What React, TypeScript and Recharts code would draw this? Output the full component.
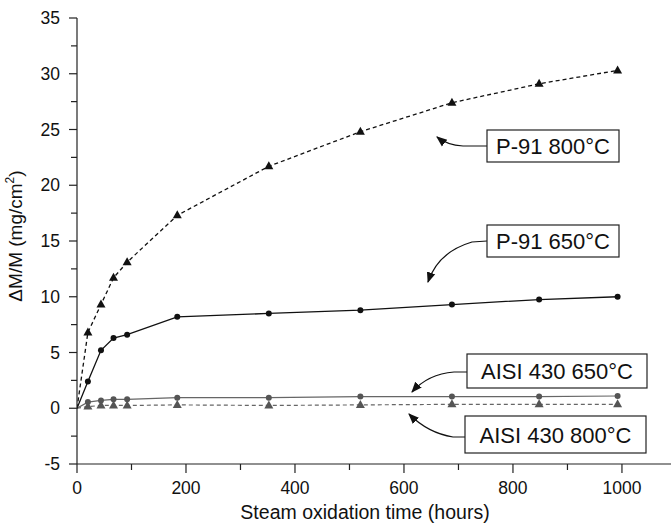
import { LineChart, Line, XAxis, YAxis } from "recharts";

const hours = [0, 20, 44, 67, 92, 184, 352, 520, 688, 848, 992];
const p91At800 = [0, 6.8, 9.3, 11.7, 13.1, 17.3, 21.7, 24.8, 27.4, 29.1, 30.3];
const p91At650 = [0, 2.4, 5.2, 6.3, 6.6, 8.2, 8.5, 8.8, 9.3, 9.75, 10.0];
const aisiAt650 = [0, 0.55, 0.7, 0.8, 0.8, 0.95, 0.95, 1.05, 1.05, 1.05, 1.1];
const aisiAt800 = [0, 0.15, 0.25, 0.25, 0.25, 0.3, 0.25, 0.3, 0.35, 0.35, 0.35];

const xTicks = [0, 100, 200, 300, 400, 500, 600, 700, 800, 900, 1000];
const yTicks = [-5, -2.5, 0, 2.5, 5, 7.5, 10, 12.5, 15, 17.5, 20, 22.5, 25, 27.5, 30, 32.5, 35];

const data = hours.map((h, i) => ({
  h,
  p800: p91At800[i],
  p650: p91At650[i],
  a650: aisiAt650[i],
  a800: aisiAt800[i],
}));

const FONT = "Liberation Sans, Arial, sans-serif";

const circle = (fill: string) => (props: any) => {
  const { cx, cy, index } = props;
  if (index === 0) return <g key={`c${index}`} />;
  return <circle key={`c${index}`} cx={cx} cy={cy} r={3} fill={fill} />;
};

const triangle = (fill: string) => (props: any) => {
  const { cx, cy, index } = props;
  if (index === 0) return <g key={`t${index}`} />;
  return (
    <path
      key={`t${index}`}
      d={`M${cx},${cy - 5} L${cx + 4.5},${cy + 3} L${cx - 4.5},${cy + 3} Z`}
      fill={fill}
    />
  );
};

const YTick = (props: any) => {
  const { x, y, payload } = props;
  const major = payload.value % 5 === 0;
  return (
    <g>
      <line x1={x - (major ? 8 : 6)} x2={x} y1={y} y2={y} stroke="#222" strokeWidth={1.2} />
      {major && (
        <text x={x - 17} y={y + 6} textAnchor="end" fontSize={17.5} fontFamily={FONT} fill="#111">
          {payload.value}
        </text>
      )}
    </g>
  );
};

const XTick = (props: any) => {
  const { x, y, payload } = props;
  const major = payload.value % 200 === 0;
  return (
    <g>
      <line x1={x} x2={x} y1={y} y2={y + (major ? 9 : 6)} stroke="#222" strokeWidth={1.2} />
      {major && (
        <text x={x} y={y + 30} textAnchor="middle" fontSize={17.5} fontFamily={FONT} fill="#111">
          {payload.value}
        </text>
      )}
    </g>
  );
};

const labels = [
  { text: "P-91 800°C", x: 487, y: 130, w: 132, h: 32, path: "M487,146 L463,146 Q447,145 437,137" },
  { text: "P-91 650°C", x: 487, y: 225, w: 132, h: 32, path: "M487,241 L472,242 Q438,252 428,282" },
  { text: "AISI 430 650°C", x: 467, y: 354, w: 180, h: 34, path: "M467,372 L454,372 Q428,374 412,392" },
  { text: "AISI 430 800°C", x: 465, y: 416, w: 181, h: 37, path: "M465,437 L453,437 Q428,433 409,414" },
];

export default function App() {
  return (
    <div style={{ position: "absolute", left: 0, top: 0, width: 671, height: 524, background: "#fff" }}>
      <LineChart width={671} height={524} data={data} margin={{ top: 18, right: 0, left: 0, bottom: 0 }}>
        <XAxis
          dataKey="h"
          type="number"
          domain={[0, 1090]}
          ticks={xTicks}
          tick={<XTick />}
          tickLine={false}
          tickSize={0}
          tickMargin={0}
          height={60}
          stroke="#222"
          strokeWidth={1.2}
          interval={0}
          allowDataOverflow
          label={(p: any) => {
            const vb = p.viewBox;
            return (
              <text x={365} y={vb.y + 55} textAnchor="middle" fontSize={19.5} fontFamily={FONT} fill="#111">
                Steam oxidation time (hours)
              </text>
            );
          }}
        />
        <YAxis
          type="number"
          domain={[-5, 35]}
          ticks={yTicks}
          tick={<YTick />}
          tickLine={false}
          tickSize={0}
          tickMargin={0}
          width={77}
          stroke="#222"
          strokeWidth={1.2}
          interval={0}
          label={() => (
            <text
              transform="translate(22,236) rotate(-90)"
              textAnchor="middle"
              fontSize={19}
              fontFamily={FONT}
              fill="#111"
            >
              ΔM/M (mg/cm<tspan dy={-8} fontSize={12}>2</tspan>
              <tspan dy={8}>)</tspan>
            </text>
          )}
        />
        <Line
          type="linear"
          dataKey="a800"
          stroke="#666"
          strokeWidth={1.2}
          strokeDasharray="4 3"
          dot={triangle("#555")}
          isAnimationActive={false}
        />
        <Line
          type="linear"
          dataKey="a650"
          stroke="#666"
          strokeWidth={1.2}
          dot={circle("#555")}
          isAnimationActive={false}
        />
        <Line
          type="linear"
          dataKey="p650"
          stroke="#111"
          strokeWidth={1.3}
          dot={circle("#111")}
          isAnimationActive={false}
        />
        <Line
          type="linear"
          dataKey="p800"
          stroke="#111"
          strokeWidth={1.3}
          strokeDasharray="4 3"
          dot={triangle("#111")}
          isAnimationActive={false}
        />
      </LineChart>
      <svg
        width={671}
        height={524}
        style={{ position: "absolute", left: 0, top: 0, pointerEvents: "none" }}
      >
        <defs>
          <marker id="arr" viewBox="0 0 10 10" refX="9" refY="5" markerWidth="9" markerHeight="9" orient="auto">
            <path d="M0,1 L10,5 L0,9 Z" fill="#111" />
          </marker>
        </defs>
        {labels.map((l) => (
          <g key={l.text}>
            <path d={l.path} fill="none" stroke="#111" strokeWidth={1.2} markerEnd="url(#arr)" />
            <rect x={l.x} y={l.y} width={l.w} height={l.h} fill="#fff" stroke="#222" strokeWidth={1.2} />
            <text
              x={l.x + l.w / 2}
              y={l.y + l.h / 2 + 8}
              textAnchor="middle"
              fontSize={22}
              fontFamily={FONT}
              fill="#111"
            >
              {l.text}
            </text>
          </g>
        ))}
      </svg>
    </div>
  );
}
